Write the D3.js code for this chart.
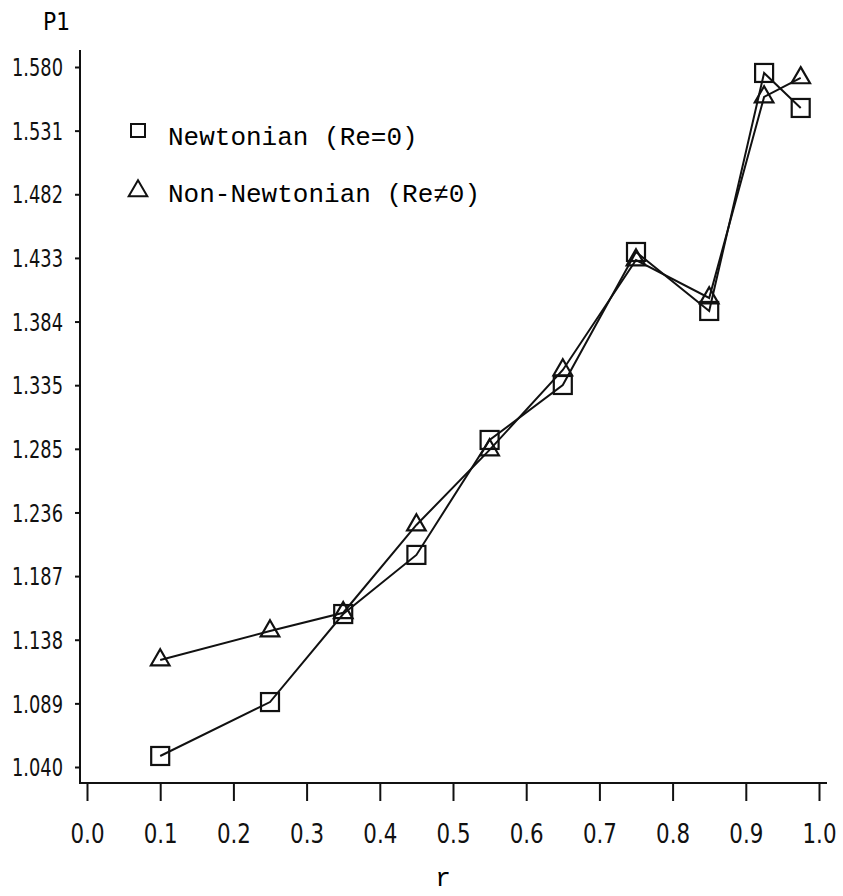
<!DOCTYPE html>
<html>
<head>
<meta charset="utf-8">
<script src="https://cdn.jsdelivr.net/npm/d3@7"></script>
<style>
  body { margin: 0; background: #fff; }
  .tick text { font-family: "DejaVu Sans", sans-serif; fill: #111; }
</style>
</head>
<body>
<div id="chart"></div>
<script>
const rValues = [0.1, 0.25, 0.35, 0.45, 0.55, 0.65, 0.75, 0.85, 0.925, 0.975];
const newtonian = [1.0485, 1.0901, 1.158, 1.2036, 1.2923, 1.3347, 1.4373, 1.3918, 1.5754, 1.5484];
const nonNewtonian = [1.1226, 1.1449, 1.159, 1.2267, 1.2846, 1.3463, 1.4311, 1.4018, 1.5569, 1.5716];
const yTickLabels = ['1.040', '1.089', '1.138', '1.187', '1.236', '1.285', '1.335', '1.384', '1.433', '1.482', '1.531', '1.580'];
const xTickLabels = ['0.0', '0.1', '0.2', '0.3', '0.4', '0.5', '0.6', '0.7', '0.8', '0.9', '1.0'];

const width = 843;
const height = 896;

const x = d3.scaleLinear().domain([0, 1]).range([87, 819]);
const y = d3.scaleLinear().domain([1.040, 1.580]).range([767, 67]);

const yStep = (1.580 - 1.040) / (yTickLabels.length - 1);
const yTicks = yTickLabels.map((d, i) => 1.040 + i * yStep);
const xTicks = xTickLabels.map((d, i) => i / 10);

const svg = d3.select('#chart')
  .append('svg')
  .attr('width', width)
  .attr('height', height);

// axis lines
svg.append('line')
  .attr('x1', 80).attr('x2', 80)
  .attr('y1', 50).attr('y2', 784)
  .attr('stroke', '#111').attr('stroke-width', 2);
svg.append('line')
  .attr('x1', 79).attr('x2', 827)
  .attr('y1', 783).attr('y2', 783)
  .attr('stroke', '#111').attr('stroke-width', 2);

// y axis
const yAxis = svg.append('g')
  .attr('transform', 'translate(80,0)')
  .call(d3.axisLeft(y)
    .tickValues(yTicks)
    .tickFormat((d, i) => yTickLabels[i])
    .tickSize(5)
    .tickPadding(12));
yAxis.select('.domain').remove();
yAxis.selectAll('.tick line').attr('stroke', '#111').attr('stroke-width', 2);
yAxis.selectAll('.tick text')
  .attr('dy', '0.36em')
  .style('font-size', '24px')
  .attr('textLength', 51)
  .attr('lengthAdjust', 'spacingAndGlyphs');

// x axis
const xAxis = svg.append('g')
  .attr('transform', 'translate(0,783)')
  .call(d3.axisBottom(x)
    .tickValues(xTicks)
    .tickFormat((d, i) => xTickLabels[i])
    .tickSize(18)
    .tickPadding(24));
xAxis.select('.domain').remove();
xAxis.selectAll('.tick line').attr('stroke', '#111').attr('stroke-width', 2);
xAxis.selectAll('.tick text')
  .style('font-size', '26px')
  .attr('textLength', 34)
  .attr('lengthAdjust', 'spacingAndGlyphs');

// axis titles
svg.append('text')
  .attr('x', 43).attr('y', 30)
  .attr('textLength', 27)
  .attr('lengthAdjust', 'spacingAndGlyphs')
  .style('font-family', '"DejaVu Sans", sans-serif')
  .style('font-size', '24px')
  .text('P1');

svg.append('text')
  .attr('x', 443).attr('y', 886)
  .attr('text-anchor', 'middle')
  .style('font-family', '"Liberation Mono", monospace')
  .style('font-size', '26px')
  .text('r');

const line = d3.line()
  .x((d, i) => x(rValues[i]))
  .y(d => y(d));

svg.append('path')
  .datum(nonNewtonian)
  .attr('d', line)
  .attr('fill', 'none')
  .attr('stroke', '#111')
  .attr('stroke-width', 2);

svg.append('path')
  .datum(newtonian)
  .attr('d', line)
  .attr('fill', 'none')
  .attr('stroke', '#111')
  .attr('stroke-width', 2);

const squareSize = 18;
svg.append('g')
  .selectAll('rect')
  .data(newtonian)
  .enter()
  .append('rect')
  .attr('x', (d, i) => x(rValues[i]) - squareSize / 2)
  .attr('y', d => y(d) - squareSize / 2)
  .attr('width', squareSize)
  .attr('height', squareSize)
  .attr('fill', 'none')
  .attr('stroke', '#111')
  .attr('stroke-width', 2.2);

const tri = d3.symbol().type(d3.symbolTriangle).size(150);
svg.append('g')
  .selectAll('path')
  .data(nonNewtonian)
  .enter()
  .append('path')
  .attr('d', tri)
  .attr('transform', (d, i) => `translate(${x(rValues[i])},${y(d)})`)
  .attr('fill', 'none')
  .attr('stroke', '#111')
  .attr('stroke-width', 2.2);

// legend
const legendFont = '"Liberation Mono", monospace';
svg.append('rect')
  .attr('x', 131).attr('y', 124)
  .attr('width', 14).attr('height', 13)
  .attr('fill', 'none').attr('stroke', '#111').attr('stroke-width', 2);
svg.append('text')
  .attr('x', 168).attr('y', 145)
  .style('font-family', legendFont)
  .style('font-size', '26px')
  .text('Newtonian (Re=0)');

svg.append('path')
  .attr('d', tri)
  .attr('transform', 'translate(138,191)')
  .attr('fill', 'none').attr('stroke', '#111').attr('stroke-width', 2);
svg.append('text')
  .attr('x', 168).attr('y', 202)
  .style('font-family', legendFont)
  .style('font-size', '26px')
  .text('Non-Newtonian (Re≠0)');
</script>
</body>
</html>
